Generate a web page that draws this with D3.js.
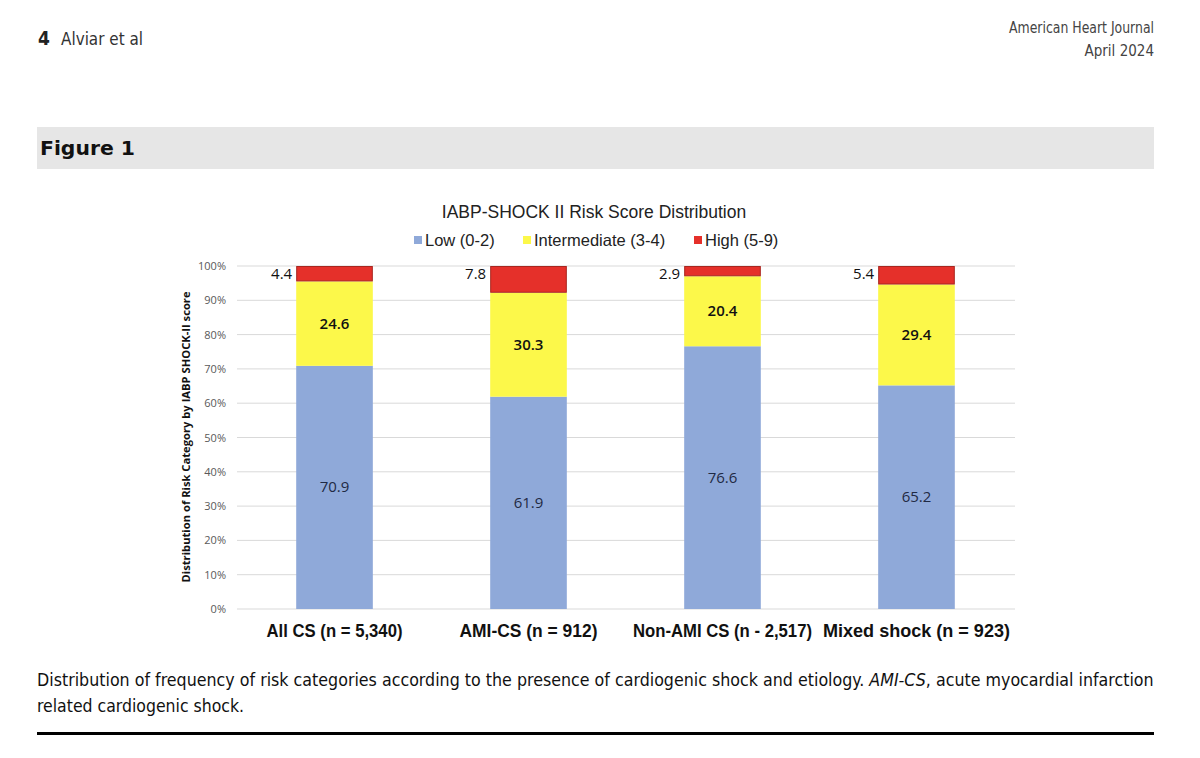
<!DOCTYPE html>
<html><head><meta charset="utf-8">
<script src="https://cdn.jsdelivr.net/npm/d3@7/dist/d3.min.js"></script>
<style>
body{margin:0;background:#fff;}
svg{display:block;}
</style></head>
<body>
<svg id="c" width="1200" height="758"></svg>
<script>
const categories = ["All CS (n = 5,340)", "AMI-CS (n = 912)", "Non-AMI CS (n - 2,517)", "Mixed shock (n = 923)"];
const lowValues = [70.9, 61.9, 76.6, 65.2];
const intermediateValues = [24.6, 30.3, 20.4, 29.4];
const highValues = [4.4, 7.8, 2.9, 5.4];
const seriesNames = ["Low (0-2)", "Intermediate (3-4)", "High (5-9)"];
const yTicks = [0, 10, 20, 30, 40, 50, 60, 70, 80, 90, 100];

const colors = ["#8fa9d9", "#fcf84a", "#e5302a"];
const strokes = ["none", "none", "#a8261f"];
const headFont = "'DejaVu Sans Condensed','Liberation Sans Narrow',sans-serif";
const chartFont = "'Liberation Sans',Arial,sans-serif";
const labelFont = "'Open Sans','DejaVu Sans',sans-serif";

const svg = d3.select("#c");

function fitWidth(sel, w) {
  sel.attr("textLength", w).attr("lengthAdjust", "spacingAndGlyphs");
}
function scaleToWidth(sel, x0, w) {
  const bw = sel.node().getComputedTextLength();
  const s = w / bw;
  sel.attr("x", 0).attr("transform", `translate(${x0},0) scale(${s},1)`);
}

// Header
svg.append("text").attr("x", 38).attr("y", 45).attr("font-family", headFont)
  .attr("font-size", 19).attr("font-weight", "bold").attr("fill", "#222").text("4");
svg.append("text").attr("x", 61).attr("y", 45).attr("font-family", headFont)
  .attr("font-size", 18).attr("fill", "#333").text("Alviar et al").call(fitWidth, 82);
svg.append("text").attr("x", 1009).attr("y", 33).attr("font-family", headFont)
  .attr("font-size", 15).attr("fill", "#444").text("American Heart Journal").call(fitWidth, 145);
svg.append("text").attr("x", 1154).attr("y", 56).attr("text-anchor", "end").attr("font-family", headFont)
  .attr("font-size", 15).attr("fill", "#444").text("April 2024");

// Figure band
svg.append("rect").attr("x", 37).attr("y", 127).attr("width", 1117).attr("height", 42).attr("fill", "#e6e6e6");
svg.append("text").attr("x", 40).attr("y", 155).attr("font-family", headFont)
  .attr("font-size", 20).attr("font-weight", "bold").attr("fill", "#111").text("Figure 1").call(fitWidth, 95);

// Chart
const x = d3.scaleBand().domain(categories).range([238, 1013]).paddingInner(0.605).paddingOuter(0.3);
const y = d3.scaleLinear().domain([0, 100]).range([609, 266]);

// gridlines
svg.append("g").selectAll("line").data(yTicks).join("line")
  .attr("x1", 237).attr("x2", 1015)
  .attr("y1", d => y(d)).attr("y2", d => y(d))
  .attr("stroke", "#d9d9d9").attr("stroke-width", 1);

const yAxis = d3.axisLeft(y).tickValues(yTicks).tickFormat(d => d + "%").tickSize(0).tickPadding(11);
const ya = svg.append("g").attr("transform", "translate(237,0)").call(yAxis);
ya.select(".domain").remove();
ya.selectAll("text").attr("font-family", labelFont).attr("font-size", 11).attr("fill", "#595959");

const xLabelWidths = [136, 138, 179, 187];
const xAxis = d3.axisBottom(x).tickSize(0).tickPadding(16);
const xa = svg.append("g").attr("transform", "translate(0,609)").call(xAxis);
xa.select(".domain").remove();
xa.selectAll("text").attr("font-family", chartFont).attr("font-size", 17.5).attr("font-weight", "bold").attr("fill", "#111")
  .attr("textLength", (d, i) => xLabelWidths[i]).attr("lengthAdjust", "spacingAndGlyphs");

const data = categories.map((c, i) => ({cat: c, "0": lowValues[i], "1": intermediateValues[i], "2": highValues[i]}));
const stack = d3.stack().keys(["0", "1", "2"])(data);

stack.forEach((layer, k) => {
  svg.append("g").selectAll("rect").data(layer).join("rect")
    .attr("x", d => x(d.data.cat) + (k === 2 ? 0.5 : 0))
    .attr("width", x.bandwidth() - (k === 2 ? 1 : 0))
    .attr("y", d => k === 2 ? y(100) + 0.5 : y(d[1]))
    .attr("height", d => k === 2 ? y(d[0]) - y(100) - 1 : y(d[0]) - y(d[1]))
    .attr("fill", colors[k])
    .attr("stroke", strokes[k]).attr("stroke-width", 1);
});

// segment labels
stack.forEach((layer, k) => {
  svg.append("g").selectAll("text").data(layer).join("text")
    .attr("x", d => k === 2 ? x(d.data.cat) - 4 : x(d.data.cat) + x.bandwidth() / 2)
    .attr("y", d => k === 2 ? y(100) + 13 : y((d[0] + d[1]) / 2) + 5)
    .attr("text-anchor", k === 2 ? "end" : "middle")
    .attr("font-family", labelFont).attr("font-size", 15)
    .attr("font-weight", k === 1 ? "600" : (k === 2 ? "500" : "normal"))
    .attr("fill", k === 0 ? "#1f2a44" : "#111")
    .text(d => (d[1] - d[0]).toFixed(1));
});

// y title
svg.append("text").attr("transform", "translate(190,437) rotate(-90)")
  .attr("text-anchor", "middle").attr("font-family", labelFont).attr("font-size", 11.2)
  .attr("font-weight", "bold").attr("fill", "#111")
  .text("Distribution of Risk Category by IABP SHOCK-II  score");

// title
svg.append("text").attr("x", 594).attr("y", 218).attr("text-anchor", "middle")
  .attr("font-family", chartFont).attr("font-size", 17.5).attr("fill", "#222")
  .text("IABP-SHOCK II Risk Score Distribution");

// legend
const legendX = [414, 523, 694];
const lg = svg.append("g").selectAll("g").data(seriesNames).join("g")
  .attr("transform", (d, i) => `translate(${legendX[i]},240)`);
lg.append("rect").attr("x", 0).attr("y", -4).attr("width", 8).attr("height", 8)
  .attr("fill", (d, i) => colors[i]);
lg.append("text").attr("x", 11).attr("y", 6).attr("font-family", chartFont).attr("font-size", 16.5)
  .attr("fill", "#222").text(d => d);

// caption
const cap1 = svg.append("text").attr("y", 686).attr("font-family", headFont).attr("font-size", 18).attr("fill", "#111");
cap1.append("tspan").text("Distribution of frequency of risk categories according to the presence of cardiogenic shock and etiology. ");
cap1.append("tspan").attr("font-style", "italic").text("AMI-CS");
cap1.append("tspan").text(", acute myocardial infarction");
scaleToWidth(cap1, 37, 1117);

svg.append("text").attr("x", 37).attr("y", 712).attr("font-family", headFont).attr("font-size", 18).attr("fill", "#111")
  .text("related cardiogenic shock.").call(fitWidth, 207);

svg.append("rect").attr("x", 37).attr("y", 732).attr("width", 1117).attr("height", 3).attr("fill", "#000");
</script>
</body></html>
